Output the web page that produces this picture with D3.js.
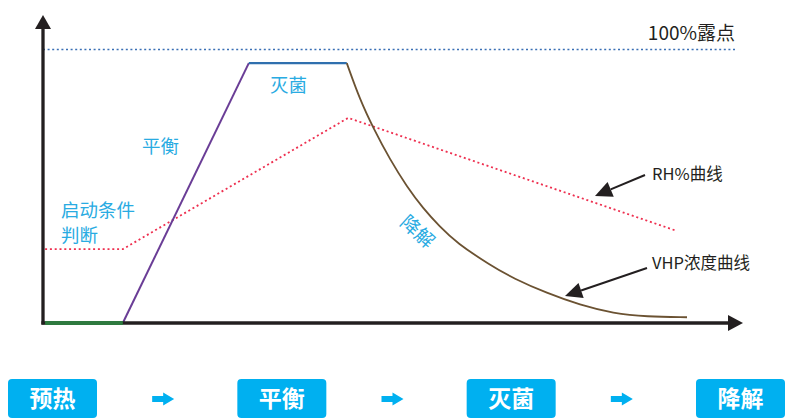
<!DOCTYPE html>
<html>
<head>
<meta charset="utf-8">
<script src="https://cdn.jsdelivr.net/npm/d3@7"></script>
<style>
  body { margin: 0; background: #fff; }
  svg { display: block; font-family: "Noto Sans CJK SC", "Noto Sans", sans-serif; }
</style>
</head>
<body>
<svg width="796" height="420"></svg>
<script>
// time in arbitrary units (0-100), level in % (0-100 = dew point)
const preheatT = [0.3, 11.4];
const balanceT = [11.4, 29.4];
const balanceV = [0, 95];
const sterileT = [29.4, 43.4];
const sterileV = [95, 95];
const degradeT = [43.4, 45.3, 47.2, 49.6, 52.0, 54.3, 56.7, 59.1, 63.9, 67.2, 72.0, 76.7, 81.5, 86.2, 92.0];
const degradeV = [95, 81.5, 71.2, 59.6, 49.8, 41.9, 35.2, 29.3, 21.1, 16.3, 10.9, 6.6, 3.5, 2.3, 2.1];
const rhT = [0.3, 11.4, 43.6, 90.5];
const rhV = [27, 27, 75, 33.7];
const dewV = 100;
const phases = ["预热", "平衡", "灭菌", "降解"];

const svg = d3.select("svg");
const x = d3.scaleLinear().domain([0, 100]).range([43, 743]);
const y = d3.scaleLinear().domain([0, 100]).range([323, 49.5]);

const zip = (a, b) => a.map((t, i) => [t, b[i]]);
const line = d3.line().x(d => x(d[0])).y(d => y(d[1]));
const smooth = d3.line().x(d => x(d[0])).y(d => y(d[1])).curve(d3.curveBasis);

// dew point line
svg.append("line")
   .attr("x1", x(0)).attr("x2", 735)
   .attr("y1", y(dewV)).attr("y2", y(dewV))
   .attr("stroke", "#3a6fb5").attr("stroke-width", 1.6)
   .attr("stroke-dasharray", "2,2.6");

svg.append("text")
   .attr("x", 735).attr("y", 40)
   .attr("text-anchor", "end")
   .attr("font-size", 19)
   .attr("fill", "#231f20")
   .text("100%露点");

// RH curve
svg.append("path")
   .attr("d", line(zip(rhT, rhV)))
   .attr("fill", "none")
   .attr("stroke", "#ee2f4f").attr("stroke-width", 1.8)
   .attr("stroke-dasharray", "2,2.8");

// VHP concentration segments
svg.append("path")
   .attr("d", line(zip(balanceT, balanceV)))
   .attr("fill", "none").attr("stroke", "#6a3d96").attr("stroke-width", 2);

svg.append("path")
   .attr("d", line(zip(sterileT, sterileV)))
   .attr("fill", "none").attr("stroke", "#2f6fae").attr("stroke-width", 2.2);

svg.append("path")
   .attr("d", smooth(zip(degradeT, degradeV)))
   .attr("fill", "none").attr("stroke", "#6b5232").attr("stroke-width", 1.8);

// axes
svg.append("line")
   .attr("x1", 43).attr("x2", 43).attr("y1", 324.5).attr("y2", 27)
   .attr("stroke", "#231f20").attr("stroke-width", 3.3);
svg.append("path")
   .attr("d", "M35,29 L43,15 L51,29 Z")
   .attr("fill", "#231f20");
svg.append("line")
   .attr("x1", 41.4).attr("x2", 731).attr("y1", 323).attr("y2", 323)
   .attr("stroke", "#231f20").attr("stroke-width", 3.3);
svg.append("path")
   .attr("d", "M728,315 L743,323 L728,331 Z")
   .attr("fill", "#231f20");

// preheat segment, drawn on top of the axis
svg.append("path")
   .attr("d", line(preheatT.map(t => [t, 0])))
   .attr("fill", "none").attr("stroke", "#2e7a3f").attr("stroke-width", 4);

// phase labels on chart
const labelColor = "#29abe2";
const labels = [
  {t: "灭菌", x: 270, y: 92},
  {t: "平衡", x: 142, y: 153},
  {t: "启动条件", x: 61, y: 217},
  {t: "判断", x: 61, y: 242}
];
svg.selectAll(".lbl").data(labels).enter().append("text")
   .attr("class", "lbl")
   .attr("x", d => d.x).attr("y", d => d.y)
   .attr("font-size", 18.5)
   .attr("fill", labelColor)
   .text(d => d.t);

svg.append("text")
   .attr("transform", "translate(399,224) rotate(42)")
   .attr("font-size", 19)
   .attr("fill", labelColor)
   .text("降解");

// legend annotations
svg.append("text").attr("x", 652).attr("y", 180)
   .attr("font-size", 16.5).attr("fill", "#231f20").text("RH%曲线");
svg.append("text").attr("x", 652).attr("y", 269)
   .attr("font-size", 16.5).attr("fill", "#231f20").text("VHP浓度曲线");

function pointer(x1, y1, x2, y2) {
  const a = Math.atan2(y2 - y1, x2 - x1);
  const len = 17, w = 8;
  const bx = x2 - len * Math.cos(a), by = y2 - len * Math.sin(a);
  svg.append("line")
     .attr("x1", x1).attr("y1", y1).attr("x2", bx).attr("y2", by)
     .attr("stroke", "#231f20").attr("stroke-width", 2);
  const ox = -Math.sin(a) * w, oy = Math.cos(a) * w;
  svg.append("path")
     .attr("d", `M${x2},${y2} L${bx + ox},${by + oy} L${bx - ox},${by - oy} Z`)
     .attr("fill", "#231f20");
}
pointer(645, 175, 595, 196);
pointer(647, 268, 565, 296);

// process steps at the bottom
const px = d3.scalePoint().domain(phases).range([52.5, 740.5]);
const boxW = 89, boxH = 39, boxY = 379;

const box = svg.selectAll(".step").data(phases).enter().append("g")
   .attr("class", "step")
   .attr("transform", d => "translate(" + px(d) + "," + boxY + ")");
box.append("rect")
   .attr("x", -boxW / 2).attr("y", 0)
   .attr("width", boxW).attr("height", boxH)
   .attr("rx", 4)
   .attr("fill", "#00b0f0");
box.append("text")
   .attr("x", 0).attr("y", 28)
   .attr("text-anchor", "middle")
   .attr("font-size", 23).attr("font-weight", "bold")
   .attr("fill", "#fff")
   .text(d => d);

// small arrows between steps
svg.selectAll(".step-arrow").data(phases.slice(0, -1)).enter().append("path")
   .attr("class", "step-arrow")
   .attr("transform", (d, i) => "translate(" + ((px(d) + px(phases[i + 1])) / 2 - 4) + ",399)")
   .attr("d", "M-11,-3 L0,-3 L0,-6.5 L11,0 L0,6.5 L0,3 L-11,3 Z")
   .attr("fill", "#00b0f0");
</script>
</body>
</html>
